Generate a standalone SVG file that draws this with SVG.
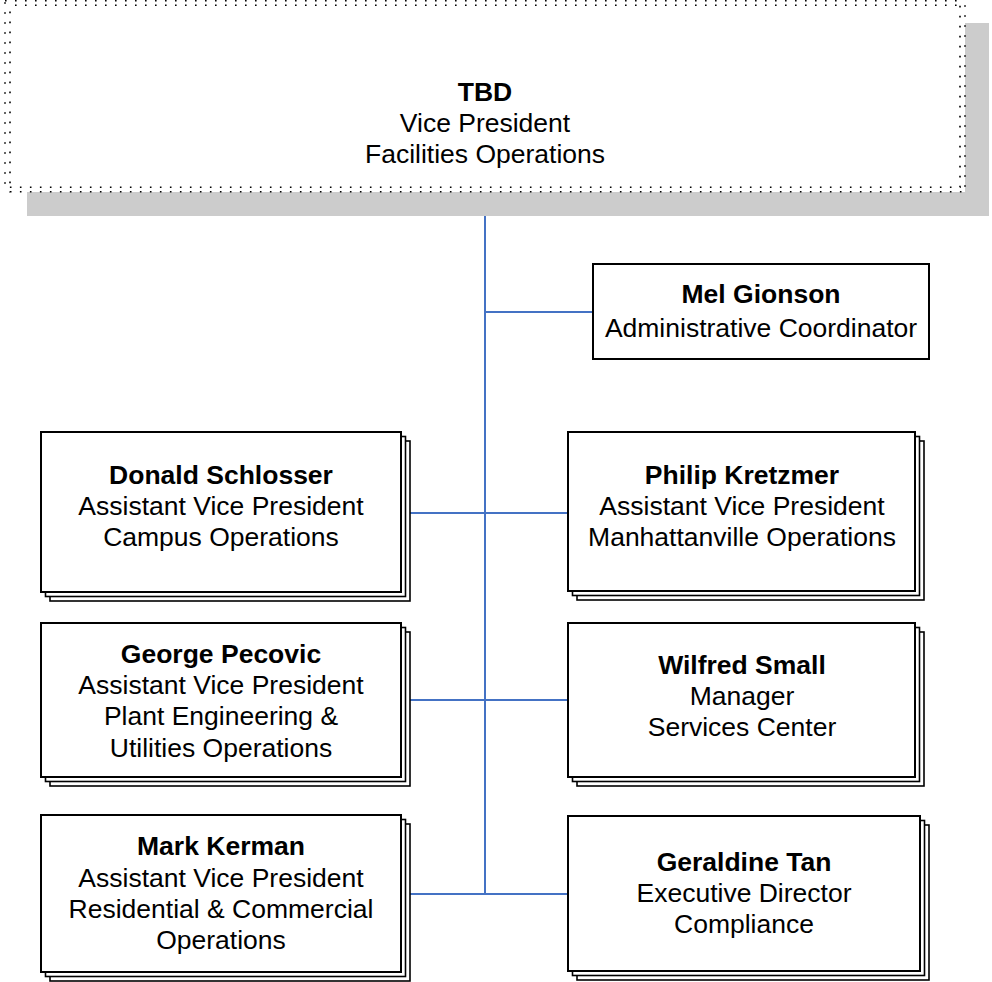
<svg xmlns="http://www.w3.org/2000/svg" width="992" height="982" viewBox="0 0 992 982">
<style>
text{font-family:"Liberation Sans",Arial,sans-serif;font-size:26.5px;fill:#000;text-anchor:middle}
.b{font-weight:bold}
.box{fill:#fff;stroke:#000;stroke-width:2}
.stk{fill:#fff;stroke:#000;stroke-width:1.6}
.dot{fill:none;stroke:#000;stroke-width:1.6;stroke-dasharray:1.6 8.4}
.con{stroke:#4472C4;stroke-width:2;fill:none}
</style>
<rect width="992" height="982" fill="#fff"/>
<g id="connectors">
<line class="con" x1="485" y1="191" x2="485" y2="894"/>
<line class="con" x1="485" y1="312" x2="593" y2="312"/>
<line class="con" x1="401" y1="513" x2="568" y2="513"/>
<line class="con" x1="401" y1="700" x2="568" y2="700"/>
<line class="con" x1="401" y1="894" x2="568" y2="894"/>
</g>
<g id="vp">
<rect x="27" y="23" width="962" height="193" fill="#cccccc"/>
<rect x="5" y="0" width="960" height="192" fill="#fff"/>
<rect class="dot" x="5" y="0.8" width="955" height="186.5"/>
<rect class="dot" x="10" y="5.2" width="955" height="186.5" style="stroke-dashoffset:5"/>
<text class="b" x="485" y="101">TBD</text>
<text x="485" y="132">Vice President</text>
<text x="485" y="163">Facilities Operations</text>
</g>
<g id="mel">
<rect class="box" x="593" y="264" width="336" height="95"/>
<text class="b" x="761" y="303">Mel Gionson</text>
<text x="761" y="337">Administrative Coordinator</text>
</g>
<g id="donald">
<rect class="stk" x="50" y="441" width="360" height="160"/>
<rect class="stk" x="45.5" y="436.5" width="360" height="160"/>
<rect class="box" x="41" y="432" width="360" height="160"/>
<text class="b" x="221" y="484">Donald Schlosser</text>
<text x="221" y="515">Assistant Vice President</text>
<text x="221" y="546">Campus Operations</text>
</g>
<g id="philip">
<rect class="stk" x="577" y="441" width="347" height="159"/>
<rect class="stk" x="572.5" y="436.5" width="347" height="159"/>
<rect class="box" x="568" y="432" width="347" height="159"/>
<text class="b" x="742" y="484">Philip Kretzmer</text>
<text x="742" y="515">Assistant Vice President</text>
<text x="742" y="546">Manhattanville Operations</text>
</g>
<g id="george">
<rect class="stk" x="50" y="632" width="360" height="154"/>
<rect class="stk" x="45.5" y="627.5" width="360" height="154"/>
<rect class="box" x="41" y="623" width="360" height="154"/>
<text class="b" x="221" y="663">George Pecovic</text>
<text x="221" y="694">Assistant Vice President</text>
<text x="221" y="725">Plant Engineering &amp;</text>
<text x="221" y="757">Utilities Operations</text>
</g>
<g id="wilfred">
<rect class="stk" x="577" y="632" width="347" height="154"/>
<rect class="stk" x="572.5" y="627.5" width="347" height="154"/>
<rect class="box" x="568" y="623" width="347" height="154"/>
<text class="b" x="742" y="674">Wilfred Small</text>
<text x="742" y="705">Manager</text>
<text x="742" y="736">Services Center</text>
</g>
<g id="mark">
<rect class="stk" x="50" y="824" width="360" height="157"/>
<rect class="stk" x="45.5" y="819.5" width="360" height="157"/>
<rect class="box" x="41" y="815" width="360" height="157"/>
<text class="b" x="221" y="855">Mark Kerman</text>
<text x="221" y="887">Assistant Vice President</text>
<text x="221" y="918">Residential &amp; Commercial</text>
<text x="221" y="949">Operations</text>
</g>
<g id="geraldine">
<rect class="stk" x="577" y="825" width="352" height="155"/>
<rect class="stk" x="572.5" y="820.5" width="352" height="155"/>
<rect class="box" x="568" y="816" width="352" height="155"/>
<text class="b" x="744" y="871">Geraldine Tan</text>
<text x="744" y="902">Executive Director</text>
<text x="744" y="933">Compliance</text>
</g>
</svg>
